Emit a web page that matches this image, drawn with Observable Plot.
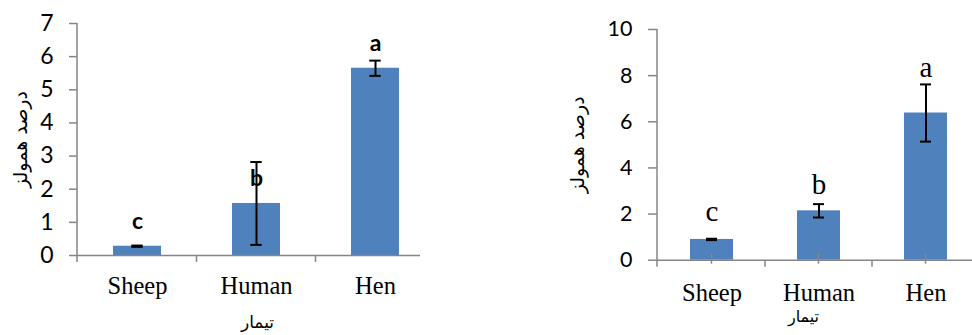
<!DOCTYPE html>
<html><head><meta charset="utf-8">
<script src="https://cdn.jsdelivr.net/npm/d3@7"></script>
<script src="https://cdn.jsdelivr.net/npm/@observablehq/plot@0.6"></script>
<style>
html,body{margin:0;padding:0;background:#fff;}
#wrap{position:relative;width:972px;height:335px;overflow:hidden;background:#fff;}
.panel{position:absolute;top:0;height:335px;overflow:hidden;}
</style></head><body>
<div id="wrap">
  <div class="panel" id="p1" style="left:0;width:420px"></div>
  <div class="panel" id="p2" style="left:540px;width:432px"></div>
</div>
<script>
// ---- data ----
const categories = ["Sheep", "Human", "Hen"];
const letters = ["c", "b", "a"];
const leftValues = [0.28, 1.57, 5.65];
const leftErrors = [0.02, 1.25, 0.23];
const leftTicks = [0, 1, 2, 3, 4, 5, 6, 7];
const rightValues = [0.90, 2.14, 6.38];
const rightErrors = [0.03, 0.29, 1.24];
const rightLetterY = [1.72, 2.88, 7.93];
const rightTicks = [0, 2, 4, 6, 8, 10];
const yLabel = "درصد همولز";
const xLabel = "تیمار";

const barColor = "#4f81bd";
const axisColor = "#868686";

function table(values, errors, ly) {
  return categories.map((c, i) => ({cat: c, value: values[i], err: errors[i], letter: letters[i], ly: ly ? ly[i] : null}));
}

// custom mark: y-axis line + x-axis tick marks at band boundaries (and optionally centers)
function frameTicks(showCenters) {
  return (index, scales, values, dims) => {
    const x = scales.x, y = scales.y;
    const bw = x.bandwidth();
    const step = x.step();
    const g = d3.create("svg:g").attr("stroke", axisColor).attr("stroke-width", 1.5).attr("fill", "none");
    const y0 = y(0);
    const left = dims.marginLeft;
    g.append("line").attr("x1", left).attr("x2", left).attr("y1", dims.marginTop).attr("y2", y0 + 7);
    categories.forEach((c, i) => {
      const bx = x(c) + bw + (step - bw) / 2;
      g.append("line").attr("x1", bx).attr("x2", bx).attr("y1", y0).attr("y2", y0 + 7);
      if (showCenters) {
        const cx = x(c) + bw / 2;
        g.append("line").attr("x1", cx).attr("x2", cx).attr("y1", y0 - 6).attr("y2", y0 + 4);
      }
    });
    return g.node();
  };
}

// ---- left chart ----
const dL = table(leftValues, leftErrors);
const left = Plot.plot({
  width: 420, height: 335,
  marginLeft: 77, marginRight: 0, marginTop: 23, marginBottom: 80,
  x: {domain: categories, range: [77, 434], paddingInner: 0.6, paddingOuter: 0.3, label: null},
  y: {domain: [0, 7], label: null},
  style: {background: "white", color: "black"},
  marks: [
    Plot.barY(dL, {x: "cat", y: "value", fill: barColor}),
    Plot.ruleY([0], {stroke: axisColor, strokeWidth: 1.5}),
    frameTicks(false),
    Plot.axisY({ticks: leftTicks, tickSize: 8, tickPadding: 16, stroke: axisColor, strokeWidth: 1.5, fill: "black",
      fontSize: 23, fontFamily: "Lato", tickFormat: d => String(d), label: null}),
    Plot.axisX({tickSize: 0, tickPadding: 21, fontSize: 24.5, fontFamily: "Liberation Serif", fill: "black", label: null}),
    Plot.ruleX(dL, {x: "cat", y1: d => d.value - d.err, y2: d => d.value + d.err, stroke: "black", strokeWidth: 2}),
    Plot.tickY(dL, {x: "cat", y: d => d.value + d.err, stroke: "black", strokeWidth: 2, insetLeft: 18.3, insetRight: 18.3}),
    Plot.tickY(dL, {x: "cat", y: d => d.value - d.err, stroke: "black", strokeWidth: 2, insetLeft: 18.3, insetRight: 18.3}),
    Plot.text(dL, {x: "cat", y: "value", text: "letter", dy: -17.7, lineAnchor: "bottom",
      fontFamily: "Lato", fontWeight: "bold", fontSize: 23, fill: "black"}),
    Plot.text([yLabel], {frameAnchor: "left", textAnchor: "middle", dx: -57, rotate: -90, fontFamily: "DejaVu Sans", fontSize: 19, fill: "black"}),
    Plot.text([xLabel], {frameAnchor: "bottom", textAnchor: "middle", dx: 8.5, dy: 72, lineAnchor: "bottom", fontFamily: "DejaVu Sans", fontSize: 17, fill: "black"})
  ]
});
document.getElementById("p1").appendChild(left);

// ---- right chart ----
const dR = table(rightValues, rightErrors, rightLetterY);
const right = Plot.plot({
  width: 432, height: 335,
  marginLeft: 117, marginRight: 0, marginTop: 29, marginBottom: 75.3,
  x: {domain: categories, range: [117, 439.5], paddingInner: 0.6, paddingOuter: 0.3, label: null},
  y: {domain: [0, 10], label: null},
  style: {background: "white", color: "black"},
  marks: [
    Plot.barY(dR, {x: "cat", y: "value", fill: barColor}),
    Plot.ruleY([0], {stroke: axisColor, strokeWidth: 1.5}),
    frameTicks(true),
    Plot.axisY({ticks: rightTicks, tickSize: 9, tickPadding: 16, stroke: axisColor, strokeWidth: 1.5, fill: "black",
      fontSize: 21.5, fontFamily: "Lato", tickFormat: d => String(d), label: null}),
    Plot.axisX({tickSize: 0, tickPadding: 23, fontSize: 24.5, fontFamily: "Liberation Serif", fill: "black", label: null}),
    Plot.ruleX(dR, {x: "cat", y1: d => d.value - d.err, y2: d => d.value + d.err, stroke: "black", strokeWidth: 2}),
    Plot.tickY(dR, {x: "cat", y: d => d.value + d.err, stroke: "black", strokeWidth: 2, insetLeft: 16, insetRight: 16}),
    Plot.tickY(dR, {x: "cat", y: d => d.value - d.err, stroke: "black", strokeWidth: 2, insetLeft: 16, insetRight: 16}),
    Plot.text(dR, {x: "cat", y: "ly", text: "letter", lineAnchor: "bottom",
      fontFamily: "Liberation Serif", fontSize: 29, fill: "black"}),
    Plot.text([yLabel], {frameAnchor: "left", textAnchor: "middle", dx: -79.5, rotate: -90, fontFamily: "DejaVu Sans", fontSize: 19, fill: "black"}),
    Plot.text([xLabel], {frameAnchor: "bottom", textAnchor: "middle", dx: -11.5, dy: 61.5, lineAnchor: "bottom", fontFamily: "DejaVu Sans", fontSize: 16, fill: "black"})
  ]
});
document.getElementById("p2").appendChild(right);
</script>
</body></html>
